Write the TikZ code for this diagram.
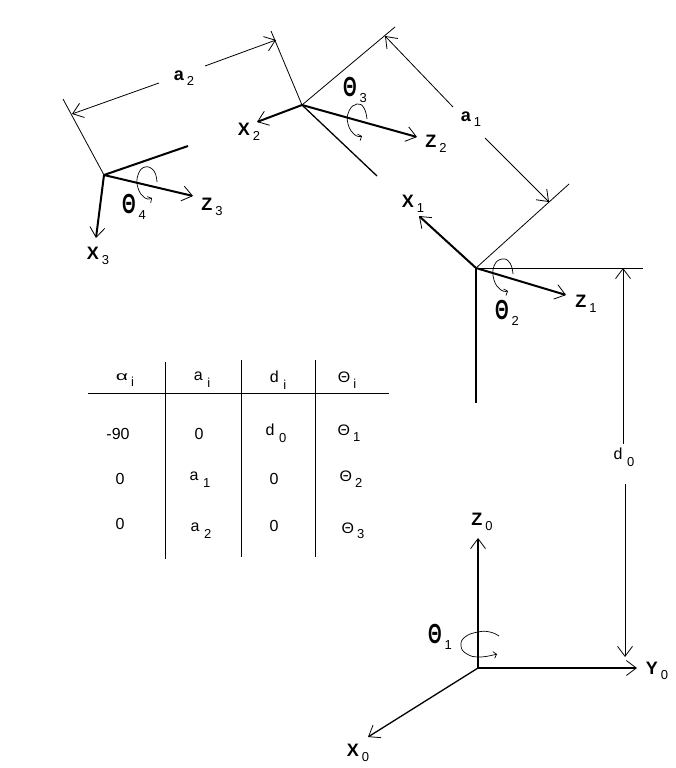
\documentclass[tikz,border=0pt]{standalone}
\usepackage{fontspec}
\setmainfont{Liberation Sans}
\usetikzlibrary{arrows.meta}
\newcommand{\SubT}[1]{\kern3pt\raisebox{-5.5pt}{\fontsize{13}{13}\selectfont\mdseries #1}}
\newcommand{\SubU}[1]{\kern4.5pt\raisebox{-7pt}{\fontsize{13}{13}\selectfont\mdseries #1}}
\newcommand{\AxLab}[2]{{\fontsize{18}{18}\selectfont\bfseries #1}\SubT{#2}}
\newcommand{\AngLab}[1]{\scalebox{.76}[1.2]{\fontsize{23}{23}\selectfont\bfseries Θ}\SubT{#1}}
\newcommand{\TabLab}[2]{{\fontsize{16}{16}\selectfont #1}\SubU{#2}}
\newcommand{\TabTh}[1]{\scalebox{1}[.95]{\fontsize{16}{16}\selectfont Θ}\SubT{#1}}
\newcommand{\TabAl}[1]{\scalebox{1.5}[.9]{\fontsize{14}{14}\selectfont α}\SubT{#1}}
\tikzset{
  x=1pt,y=-1pt,
  thinln/.style={line width=.8pt,black},
  thickln/.style={line width=2pt,black},
  midln/.style={line width=1.3pt,black},
  tipped/.style={-{Straight Barb[length=10pt,width=15pt,line width=.8pt]}},
  spin/.style={line width=.7pt,black,-{Straight Barb[length=3pt,width=7pt,line width=.7pt]}},
  lab/.style={inner sep=0pt,outer sep=0pt,black,anchor=center},
  gridln/.style={line width=1pt,black}
}
\begin{document}
\begin{tikzpicture}
\useasboundingbox (0,0) rectangle (676,768);
% frames' points
\coordinate (o3) at (104,175);
\coordinate (x3) at (96,238);
\coordinate (z3) at (193,196);
\coordinate (e3) at (188,146);
\coordinate (p3) at (63,99);
\coordinate (o2) at (302,105);
\coordinate (x2) at (257,122);
\coordinate (z2) at (417,137);
\coordinate (e2) at (377,176);
\coordinate (p2) at (271,31);
\coordinate (q2) at (395,27);
\coordinate (o1) at (476,268);
\coordinate (x1) at (419,216);
\coordinate (z1) at (566,295);
\coordinate (e1) at (476,403);
\coordinate (h1) at (643,268);
\coordinate (q1) at (569,184);
\coordinate (o0) at (478,668);
\coordinate (z0) at (478,538);
\coordinate (y0) at (637,668);
\coordinate (x0) at (368,737);
% dimension ends
\coordinate (a2l) at (72,114);
\coordinate (a2la) at (159,83);
\coordinate (a2r) at (276,40);
\coordinate (a2ra) at (205,66);
\coordinate (a1t) at (385,36);
\coordinate (a1ta) at (453,107);
\coordinate (a1b) at (549,202);
\coordinate (a1ba) at (485,138);
\coordinate (d0t) at (623,268);
\coordinate (d0ta) at (623,444);
\coordinate (d0b) at (625,657);
\coordinate (d0ba) at (625,484);
% labels
\node[lab] (la2) at (184,78) {\AxLab{a}{2}};
\node[lab] (la1) at (471,119) {\AxLab{a}{1}};
\node[lab] (lx3) at (98,256) {\AxLab{X}{3}};
\node[lab] (lz3) at (212,207) {\AxLab{Z}{3}};
\node[lab] (lt4) at (134,207) {\AngLab{4}};
\node[lab] (lx2) at (249,132) {\AxLab{X}{2}};
\node[lab] (lz2) at (436,144) {\AxLab{Z}{2}};
\node[lab] (lt3) at (355,90) {\AngLab{3}};
\node[lab] (lx1) at (413,204) {\AxLab{X}{1}};
\node[lab] (lz1) at (586,304) {\AxLab{Z}{1}};
\node[lab] (lt2) at (507,313) {\AngLab{2}};
\node[lab] (ld0) at (624,457) {\TabLab{d}{0}};
\node[lab] (lz0) at (482,522) {\AxLab{Z}{0}};
\node[lab] (lt1) at (440,637) {\AngLab{1}};
\node[lab] (ly0) at (657,671) {\AxLab{Y}{0}};
\node[lab] (lx0) at (358,753) {\AxLab{X}{0}};
% thin construction lines
\draw[thinln] (o3) -- (p3);
\draw[thinln] (o2) -- (p2);
\draw[thinln] (o2) -- (q2);
\draw[thinln] (o1) -- (q1);
\draw[line width=1pt] (o1) -- (h1);
% dimension arrows
\draw[thinln,tipped] (a2la) -- (a2l);
\draw[thinln,tipped] (a2ra) -- (a2r);
\draw[thinln,tipped] (a1ta) -- (a1t);
\draw[thinln,tipped] (a1ba) -- (a1b);
\draw[thinln,tipped] (d0ta) -- (d0t);
\draw[thinln,tipped] (d0ba) -- (d0b);
% axes
\draw[thickln] (o3) -- (e3);
\draw[thickln,tipped] (o3) -- (x3);
\draw[thickln,tipped] (o3) -- (z3);
\draw[thickln,tipped] (o2) -- (x2);
\draw[thickln,tipped] (o2) -- (z2);
\draw[midln] (o2) -- (e2);
\draw[thickln,tipped] (o1) -- (x1);
\draw[thickln,tipped] (o1) -- (z1);
\draw[thickln] (o1) -- (e1);
\draw[thickln,tipped] (o0) -- (z0);
\draw[thickln,tipped] (o0) -- (y0);
\draw[midln,tipped] (o0) -- (x0);
% rotation marks
\draw[spin] plot[smooth,tension=.8] coordinates {(157,182) (154,171) (145,167) (138,175) (138,188) (145,198) (152,198)};
\draw[spin] plot[smooth,tension=.8] coordinates {(367,119) (364,108) (357,104) (349,111) (348,124) (355,135) (362,136)};
\draw[spin] plot[smooth,tension=.8] coordinates {(513,274) (510,263) (502,259) (494,266) (494,280) (501,290) (508,291)};
\draw[spin] plot[smooth,tension=.8] coordinates {(499,636) (490,632) (478,632) (465,637) (461,646) (467,654) (480,657) (497,654)};
% table
\coordinate (tl) at (88,393);
\coordinate (tr) at (389,393);
\coordinate (c1t) at (165,362);
\coordinate (c1b) at (165,559);
\coordinate (c2t) at (241,360);
\coordinate (c2b) at (241,557);
\coordinate (c3t) at (315,360);
\coordinate (c3b) at (315,557);
\draw[gridln] (tl) -- (tr);
\draw[gridln] (c1t) -- (c1b);
\draw[gridln] (c2t) -- (c2b);
\draw[gridln] (c3t) -- (c3b);
\node[lab] (h1l) at (125,380) {\TabAl{i}};
\node[lab] (h2l) at (202,380) {\TabLab{a}{i}};
\node[lab] (h3l) at (278,380) {\TabLab{d}{i}};
\node[lab] (h4l) at (347,380) {\TabTh{i}};
\node[lab] (r11) at (118,434) {\fontsize{16}{16}\selectfont -90};
\node[lab] (r12) at (199,434) {\fontsize{16}{16}\selectfont 0};
\node[lab] (r13) at (276,433) {\TabLab{d}{0}};
\node[lab] (r14) at (349,433) {\TabTh{1}};
\node[lab] (r21) at (120,479) {\fontsize{16}{16}\selectfont 0};
\node[lab] (r22) at (200,480) {\TabLab{a}{1}};
\node[lab] (r23) at (274,479) {\fontsize{16}{16}\selectfont 0};
\node[lab] (r24) at (351,479) {\TabTh{2}};
\node[lab] (r31) at (120,524) {\fontsize{16}{16}\selectfont 0};
\node[lab] (r32) at (201,531) {\TabLab{a}{2}};
\node[lab] (r33) at (274,526) {\fontsize{16}{16}\selectfont 0};
\node[lab] (r34) at (353,531) {\TabTh{3}};
\end{tikzpicture}
\end{document}
